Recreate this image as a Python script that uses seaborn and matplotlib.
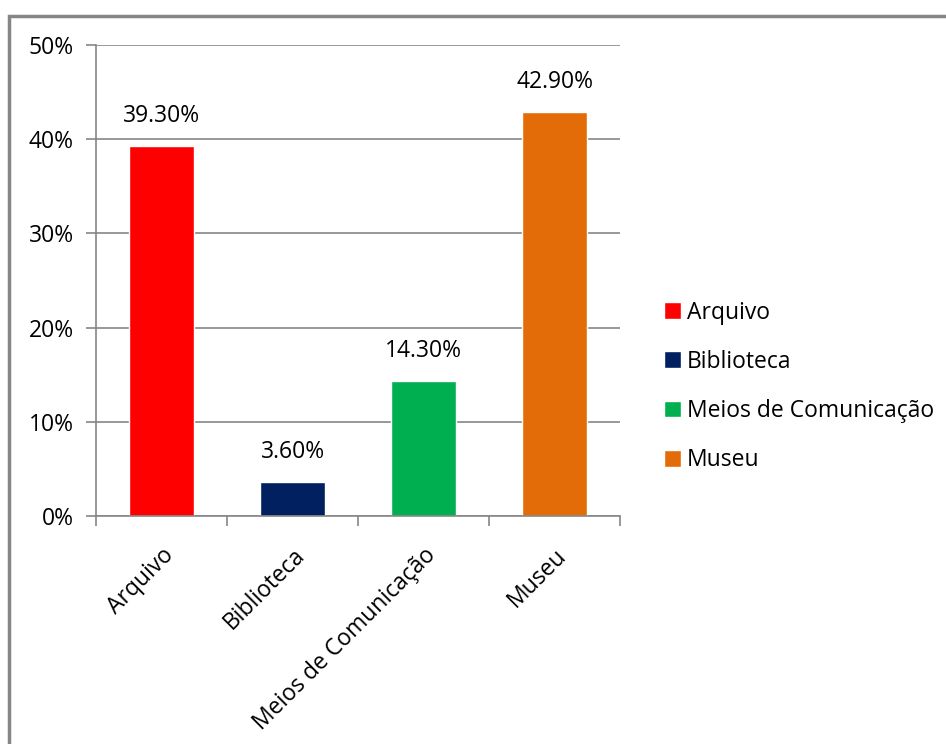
import matplotlib
matplotlib.use("Agg")
import matplotlib.pyplot as plt
import seaborn as sns
import pandas as pd
from matplotlib.patches import Rectangle
from matplotlib.ticker import FixedLocator, PercentFormatter

categories = ["Arquivo", "Biblioteca", "Meios de Comunicação", "Museu"]
values = [39.30, 3.60, 14.30, 42.90]
colors = ["#FF0000", "#002060", "#00B050", "#E36C09"]
labels = ["39.30%", "3.60%", "14.30%", "42.90%"]

sns.set_theme(style="white")
plt.rcParams['font.family'] = ['Open Sans', 'DejaVu Sans']
plt.rcParams['text.color'] = 'black'
plt.rcParams['xtick.color'] = 'black'
plt.rcParams['ytick.color'] = 'black'

df = pd.DataFrame({"cat": categories, "val": values})

fig = plt.figure(figsize=(9.46, 7.44), dpi=100)
ax = fig.add_axes([96/946, 1-516/744, 524/946, 471/744])

sns.barplot(data=df, x="cat", y="val", hue="cat", palette=colors, width=0.5,
            dodge=False, legend=True, ax=ax, saturation=1)

ax.set_ylim(0, 50)
ax.set_xlim(-0.5, 3.5)
ax.yaxis.set_major_locator(FixedLocator([0, 10, 20, 30, 40, 50]))
ax.yaxis.set_major_formatter(PercentFormatter(decimals=0))
ax.grid(axis="y", color="#868686", linewidth=1.2)
ax.set_axisbelow(True)
for s in ["top", "right"]:
    ax.spines[s].set_visible(False)
for s in ["left", "bottom"]:
    ax.spines[s].set_color("#868686")
    ax.spines[s].set_linewidth(1.2)
ax.set_xlabel("")
ax.set_ylabel("")

ax.tick_params(axis="y", left=True, length=7, color="#868686", width=1.2,
               labelsize=16.5, pad=9, labelcolor="#000000")
ax.set_xticks(range(len(categories)))
ax.set_xticklabels(categories, rotation=45, ha="right", rotation_mode="anchor",
                   fontsize=16.5, color="black")
ax.tick_params(axis="x", which="major", bottom=False, pad=14)
ax.set_xticks([-0.5, 0.5, 1.5, 2.5, 3.5], minor=True)
ax.tick_params(axis="x", which="minor", bottom=True, length=7, color="#868686", width=1.2)

for i, (v, lab) in enumerate(zip(values, labels)):
    ax.text(i, v + 1.9, lab, ha="center", va="bottom", fontsize=16.5, color="black")

handles, labs = ax.get_legend_handles_labels()
leg = ax.legend(handles, labs, loc="center left", bbox_to_anchor=(1.045, 0.275),
                frameon=False, fontsize=16.5, handlelength=0.75, handleheight=0.75,
                handletextpad=0.25, labelspacing=1.1)
for t in leg.get_texts():
    t.set_color("black")

fig.patches.append(Rectangle((9/946, -0.1), 1.2, 1 - 16/744 + 0.1,
                             transform=fig.transFigure, fill=False,
                             edgecolor="#868686", linewidth=2.5))

fig.savefig("out.png", dpi=100)
